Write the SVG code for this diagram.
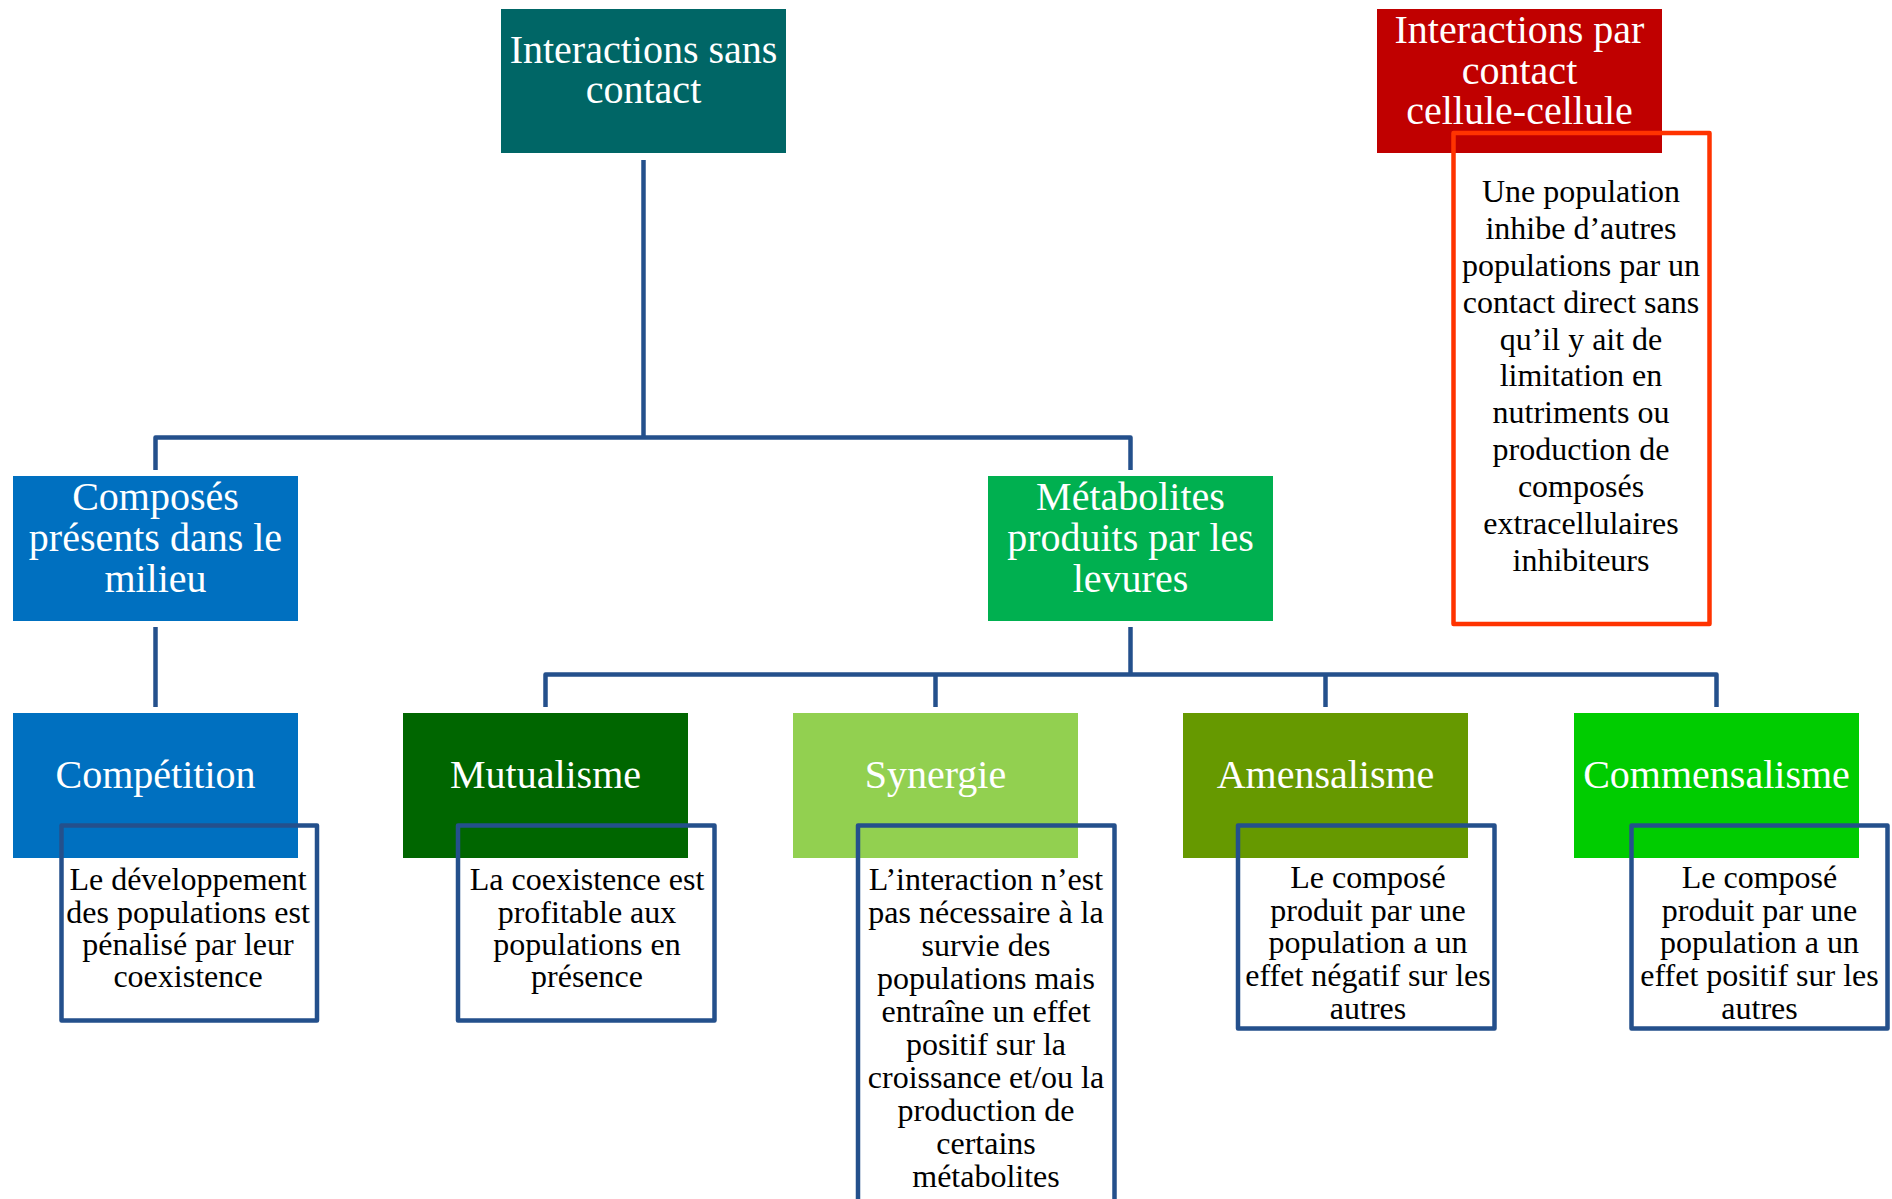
<svg xmlns="http://www.w3.org/2000/svg" width="1892" height="1199" viewBox="0 0 1892 1199">
<style>
.node text{font-family:"Liberation Serif","Times New Roman",serif;font-size:40px;fill:#ffffff;text-anchor:middle}
.desc{fill:none;stroke:#24508C;stroke-width:4.5;stroke-linejoin:round}
.descr{fill:none;stroke:#FF3300;stroke-width:4.5;stroke-linejoin:round}
.dtext{font-family:"Liberation Serif","Times New Roman",serif;font-size:32px;fill:#000000;text-anchor:middle}
.conn{fill:none;stroke:#24508C;stroke-width:4.5;stroke-linejoin:round}
</style>
<rect width="1892" height="1199" fill="#ffffff"/>
<g id="connectors">
<path class="conn" d="M643.5,160 V437.5"/>
<path class="conn" d="M155.5,470 V437.5 H1130.5 V470"/>
<path class="conn" d="M155.5,627 V707"/>
<path class="conn" d="M1130.5,627 V674.5"/>
<path class="conn" d="M545.5,707 V674.5 H1716.5 V707"/>
<path class="conn" d="M935.5,674.5 V707"/>
<path class="conn" d="M1325.5,674.5 V707"/>
</g>
<g id="n-sans-contact" class="node">
<rect x="501" y="9" width="285" height="144" fill="#006666"/>
<text x="643.5" y="63">Interactions sans</text>
<text x="643.5" y="103">contact</text>
</g>
<g id="n-par-contact" class="node">
<rect x="1377" y="9" width="285" height="144" fill="#C00000"/>
<text x="1519.5" y="43">Interactions par</text>
<text x="1519.5" y="84">contact</text>
<text x="1519.5" y="124">cellule-cellule</text>
</g>
<g id="n-composes" class="node">
<rect x="13" y="476" width="285" height="145" fill="#0070C0"/>
<text x="155.5" y="510">Composés</text>
<text x="155.5" y="551">présents dans le</text>
<text x="155.5" y="592">milieu</text>
</g>
<g id="n-metabolites" class="node">
<rect x="988" y="476" width="285" height="145" fill="#00B050"/>
<text x="1130.5" y="510">Métabolites</text>
<text x="1130.5" y="551">produits par les</text>
<text x="1130.5" y="592">levures</text>
</g>
<g id="n-competition" class="node">
<rect x="13" y="713" width="285" height="145" fill="#0070C0"/>
<text x="155.5" y="788">Compétition</text>
</g>
<g id="n-mutualisme" class="node">
<rect x="403" y="713" width="285" height="145" fill="#006600"/>
<text x="545.5" y="788">Mutualisme</text>
</g>
<g id="n-synergie" class="node">
<rect x="793" y="713" width="285" height="145" fill="#92D050"/>
<text x="935.5" y="788">Synergie</text>
</g>
<g id="n-amensalisme" class="node">
<rect x="1183" y="713" width="285" height="145" fill="#669900"/>
<text x="1325.5" y="788">Amensalisme</text>
</g>
<g id="n-commensalisme" class="node">
<rect x="1574" y="713" width="285" height="145" fill="#00CC00"/>
<text x="1716.5" y="788">Commensalisme</text>
</g>
<g id="d-contact">
<rect class="descr" x="1453.5" y="133" width="256" height="491"/>
<text class="dtext" x="1581" y="202">Une population</text>
<text class="dtext" x="1581" y="239">inhibe d’autres</text>
<text class="dtext" x="1581" y="276">populations par un</text>
<text class="dtext" x="1581" y="313">contact direct sans</text>
<text class="dtext" x="1581" y="350">qu’il y ait de</text>
<text class="dtext" x="1581" y="386">limitation en</text>
<text class="dtext" x="1581" y="423">nutriments ou</text>
<text class="dtext" x="1581" y="460">production de</text>
<text class="dtext" x="1581" y="497">composés</text>
<text class="dtext" x="1581" y="534">extracellulaires</text>
<text class="dtext" x="1581" y="571">inhibiteurs</text>
</g>
<g id="d-competition">
<rect class="desc" x="61.5" y="825.5" width="255.5" height="195"/>
<text class="dtext" x="188" y="890">Le développement</text>
<text class="dtext" x="188" y="922.5">des populations est</text>
<text class="dtext" x="188" y="955">pénalisé par leur</text>
<text class="dtext" x="188" y="987">coexistence</text>
</g>
<g id="d-mutualisme">
<rect class="desc" x="458" y="825.5" width="256.5" height="195"/>
<text class="dtext" x="587" y="890">La coexistence est</text>
<text class="dtext" x="587" y="922.5">profitable aux</text>
<text class="dtext" x="587" y="955">populations en</text>
<text class="dtext" x="587" y="987">présence</text>
</g>
<g id="d-synergie">
<rect class="desc" x="858" y="825.5" width="256.5" height="400"/>
<text class="dtext" x="986" y="890">L’interaction n’est</text>
<text class="dtext" x="986" y="923">pas nécessaire à la</text>
<text class="dtext" x="986" y="956">survie des</text>
<text class="dtext" x="986" y="989">populations mais</text>
<text class="dtext" x="986" y="1022">entraîne un effet</text>
<text class="dtext" x="986" y="1055">positif sur la</text>
<text class="dtext" x="986" y="1088">croissance et/ou la</text>
<text class="dtext" x="986" y="1121">production de</text>
<text class="dtext" x="986" y="1154">certains</text>
<text class="dtext" x="986" y="1187">métabolites</text>
</g>
<g id="d-amensalisme">
<rect class="desc" x="1238" y="825.5" width="256.5" height="203"/>
<text class="dtext" x="1368" y="888">Le composé</text>
<text class="dtext" x="1368" y="920.5">produit par une</text>
<text class="dtext" x="1368" y="953">population a un</text>
<text class="dtext" x="1368" y="986">effet négatif sur les</text>
<text class="dtext" x="1368" y="1018.5">autres</text>
</g>
<g id="d-commensalisme">
<rect class="desc" x="1631.5" y="825.5" width="256" height="203"/>
<text class="dtext" x="1759.5" y="888">Le composé</text>
<text class="dtext" x="1759.5" y="920.5">produit par une</text>
<text class="dtext" x="1759.5" y="953">population a un</text>
<text class="dtext" x="1759.5" y="986">effet positif sur les</text>
<text class="dtext" x="1759.5" y="1018.5">autres</text>
</g>
</svg>
